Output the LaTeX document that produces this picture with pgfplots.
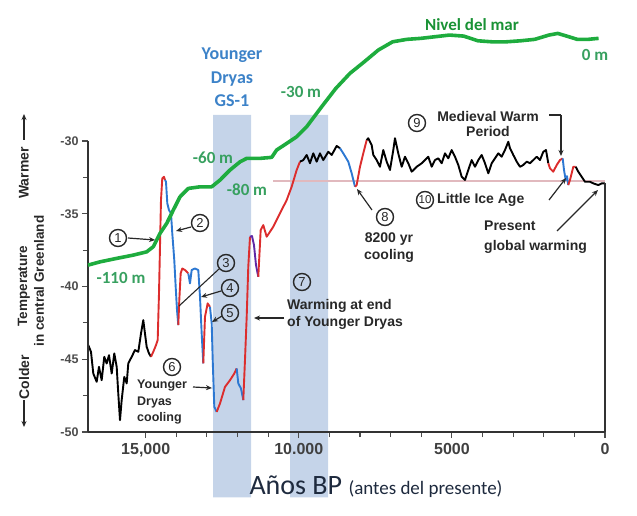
\documentclass[border=0pt]{standalone}
\usepackage{fontspec}
\setmainfont{Liberation Sans}
\newfontfamily\carlito{Carlito}
\usepackage{pgfplots}
\pgfplotsset{compat=1.18}
\usetikzlibrary{arrows.meta}

\definecolor{bandblue}{RGB}{197,212,233}
\definecolor{tred}{RGB}{220,45,45}
\definecolor{tblue}{RGB}{45,120,210}
\definecolor{tpurple}{RGB}{95,40,165}
\definecolor{seagreen}{RGB}{30,172,62}
\definecolor{sealabel}{RGB}{55,160,95}
\definecolor{ydblue}{RGB}{60,130,200}
\definecolor{refline}{RGB}{225,185,190}
\definecolor{txt}{RGB}{40,40,40}
\definecolor{navy}{RGB}{30,42,62}

\tikzset{
  circnum/.style={circle, draw=txt, line width=1.4pt, inner sep=0pt,
    minimum size=17pt, font=\fontsize{13}{13}\selectfont, text=txt},
  ann/.style={font=\bfseries\fontsize{14}{17}\selectfont, text=txt, inner sep=0pt},
  arr/.style={-{Stealth[length=6pt,width=5pt]}, line width=1.2pt, draw=txt},
  sealab/.style={font=\carlito\bfseries\fontsize{17}{17}\selectfont, text=sealabel, inner sep=0pt},
  seg/.style={line width=1.9pt, line join=round, no markers},
}

\begin{document}
\begin{tikzpicture}
\path[use as bounding box] (0,0) rectangle (637pt,515pt);

% temperature axis
\begin{axis}[
  at={(88pt,83pt)}, anchor=south west,
  scale only axis, width=517pt, height=291pt,
  xmin=0, xmax=16885, x dir=reverse,
  ymin=-50, ymax=-30,
  clip=false, axis on top,
  axis x line=bottom, axis y line=left,
  x axis line style={-}, y axis line style={-},
  axis line style={line width=1.3pt, draw=black!80},
  scaled x ticks=false,
  xtick={0,5000,10000,15000},
  xticklabels={0,5000,10.000,{15,000}},
  minor xtick={1000,2000,3000,4000,6000,7000,8000,9000,11000,12000,13000,14000},
  ytick={-50,-45,-40,-35,-30},
  yticklabels={-50,-45,-40,-35,-30},
  minor ytick={-47.5,-42.5,-37.5,-32.5},
  tick align=outside, xtick pos=bottom, ytick pos=left,
  major tick length=6pt, minor tick length=5pt,
  every tick/.style={line width=1.1pt, draw=black!70},
  xticklabel style={font=\bfseries\fontsize{16}{16}\selectfont, text=black!75, yshift=-2pt},
  yticklabel style={font=\bfseries\fontsize{12.5}{12.5}\selectfont, text=black!70},
]
% Younger Dryas and early Holocene bands
\addplot[fill=bandblue, draw=none] coordinates {(12802,-54.5) (11561,-54.5) (11561,-28.2) (12802,-28.2) (12802,-54.5)};
\addplot[fill=bandblue, draw=none] coordinates {(10287,-54.5) (9046,-54.5) (9046,-28.2) (10287,-28.2) (10287,-54.5)};
% present-day reference level
\addplot[refline, line width=1.2pt, no markers] coordinates {(10840,-32.75) (0,-32.75)};

% temperature in central Greenland
\addplot[seg, black] coordinates {(16875,-44.03) (16787,-44.49) (16712,-45.98) (16601,-46.55) (16526,-45.52) (16438,-46.44) (16353,-44.83) (16275,-45.29) (16199,-44.72) (16111,-45.98) (16026,-44.60) (15948,-45.52) (15896,-47.35) (15840,-49.19) (15785,-47.81) (15700,-46.21) (15621,-46.66) (15569,-45.29) (15458,-44.83) (15350,-44.37) (15242,-44.49) (15154,-43.23) (15079,-42.31) (15024,-43.23) (14968,-44.15) (14893,-44.60) (14828,-44.83)};
\addplot[seg, tred] coordinates {(14828,-44.83) (14753,-44.49) (14664,-44.03) (14609,-43.69) (14566,-40.47) (14501,-34.06) (14459,-32.57) (14403,-32.46) (14370,-32.68)};
\addplot[seg, tblue] coordinates {(14370,-32.68) (14338,-32.80) (14295,-34.28) (14240,-34.75) (14174,-34.97) (14132,-36.35) (14067,-38.18) (14021,-40.02) (13978,-41.62) (13936,-42.65)};
\addplot[seg, tred] coordinates {(13936,-42.65) (13903,-40.94) (13858,-39.10) (13805,-38.76) (13717,-38.87) (13609,-39.10)};
\addplot[seg, tblue] coordinates {(13609,-39.10) (13554,-39.79) (13499,-38.87) (13391,-38.76) (13283,-38.87) (13227,-40.71) (13172,-43.23) (13120,-45.29)};
\addplot[seg, tred] coordinates {(13120,-45.29) (13064,-42.08) (12976,-41.16) (12901,-41.40)};
\addplot[seg, tblue] coordinates {(12901,-41.40) (12845,-42.54) (12812,-45.06) (12760,-48.27) (12682,-48.62)};
\addplot[seg, tred] coordinates {(12682,-48.62) (12574,-48.04) (12411,-46.90) (12248,-46.44) (12107,-45.98) (12029,-45.63)};
\addplot[seg, tblue] coordinates {(12029,-45.63) (11976,-46.66) (11888,-47.01) (11813,-47.81)};
\addplot[seg, tred] coordinates {(11813,-47.81) (11758,-45.06) (11702,-42.08) (11650,-38.64) (11594,-36.58)};
\addplot[seg, tpurple] coordinates {(11594,-36.58) (11529,-36.53) (11464,-37.15) (11398,-38.53) (11323,-39.33)};
\addplot[seg, tred] coordinates {(11323,-39.33) (11245,-36.12) (11160,-35.78) (11049,-36.58) (10833,-35.89) (10615,-34.97) (10396,-34.06) (10233,-33.14) (10069,-31.99) (9961,-31.42)};
\addplot[seg, black] coordinates {(9961,-31.42) (9853,-31.31) (9742,-30.96) (9635,-31.53) (9527,-30.85) (9416,-31.42) (9308,-30.85) (9200,-31.31) (9037,-30.74) (8926,-30.96) (8763,-30.34) (8655,-30.50)};
\addplot[seg, tblue] coordinates {(8655,-30.50) (8547,-30.85) (8384,-31.42) (8273,-32.22) (8165,-33.14)};
\addplot[seg, tred] coordinates {(8165,-33.14) (8110,-33.03) (8002,-31.77) (7894,-30.85) (7783,-29.93)};
\addplot[seg, black] coordinates {(7783,-29.93) (7731,-29.81) (7620,-30.28) (7567,-30.96) (7456,-31.31) (7349,-31.77) (7241,-30.62) (7130,-31.42) (7022,-31.99) (6914,-30.62) (6859,-29.81) (6751,-30.85) (6640,-31.77) (6532,-31.08) (6424,-31.53) (6313,-32.11) (6150,-31.77) (5987,-31.53) (5879,-31.31) (5771,-31.08) (5660,-31.77) (5552,-31.31) (5444,-31.19) (5333,-31.53) (5226,-30.85) (5118,-31.19) (5007,-30.62) (4899,-31.08) (4791,-31.65) (4680,-32.46) (4572,-32.68) (4465,-31.99) (4353,-31.31) (4246,-31.77) (4138,-31.31) (4027,-30.96) (3919,-31.53) (3811,-32.22) (3700,-31.53) (3593,-31.19) (3485,-30.85) (3374,-31.08) (3266,-30.62) (3158,-30.05) (3103,-30.50) (2995,-30.96) (2884,-31.42) (2776,-31.77) (2668,-31.65) (2557,-31.42) (2450,-31.53) (2342,-31.31) (2231,-31.08) (2123,-31.31) (2015,-30.74) (1927,-30.62) (1852,-31.53)};
\addplot[seg, tred] coordinates {(1852,-31.53) (1796,-31.88) (1689,-32.11) (1577,-31.65) (1470,-31.31) (1382,-31.19)};
\addplot[seg, tblue] coordinates {(1382,-31.19) (1339,-31.99) (1284,-32.68) (1241,-32.41) (1199,-33.03)};
\addplot[seg, tred] coordinates {(1199,-33.03) (1143,-32.68) (1035,-31.77) (957,-31.77)};
\addplot[seg, black] coordinates {(957,-31.77) (872,-32.11) (761,-32.46) (653,-32.80) (490,-32.80) (382,-32.91) (219,-33.03) (108,-32.91) (0,-32.91)};

% right spine, only below the present value
\draw[line width=1.3pt, draw=black!80] (axis cs:0,-32.9) -- (axis cs:0,-50);
\end{axis}

% sea level (m), same frame, hidden scale
\begin{axis}[
  at={(88pt,83pt)}, anchor=south west,
  scale only axis, width=517pt, height=291pt,
  xmin=0, xmax=16885, x dir=reverse,
  ymin=-192.6, ymax=-50.3,
  hide axis, clip=false,
]
\addplot[seagreen, line width=3.6pt, line join=round, no markers] coordinates {(16885,-111.0) (16494,-109.4) (15948,-107.7) (15406,-106.1) (14968,-104.5) (14753,-102.0) (14534,-95.5) (14315,-90.6) (14099,-84.1) (13881,-77.6) (13610,-73.5) (13227,-72.7) (12845,-72.7) (12574,-69.4) (12248,-64.5) (11921,-60.5) (11702,-58.8) (11268,-58.8) (10886,-58.3) (10723,-54.7) (10396,-51.5) (10069,-48.2) (9742,-43.3) (9416,-36.8) (9256,-33.6) (8792,-24.6) (8328,-17.2) (7865,-11.6) (7401,-5.8) (6937,-1.8) (6473,-0.6) (6009,-0.1) (5546,0.7) (5079,1.5) (4615,1.0) (4151,-1.3) (3687,-1.8) (3224,-1.8) (2760,-1.3) (2296,-0.6) (1832,1.5) (1542,2.3) (1251,1.0) (905,-0.6) (555,-0.6) (209,-0.1)};
\end{axis}

% annotations, in image pixel positions (y downwards)
\begin{scope}[x=1pt, y=-1pt, shift={(0pt,515pt)}]
  % left column labels
  \node[rotate=90, font=\bfseries\fontsize{14}{14}\selectfont, text=txt] at (24,173) {Warmer};
  \draw[arr] (24,140) -- (24,114);
  \node[rotate=90, font=\bfseries\fontsize{13.5}{13.5}\selectfont, text=txt] at (24,286) {Temperature};
  \node[rotate=90, font=\bfseries\fontsize{14}{14}\selectfont, text=txt] at (24,377) {Colder};
  \draw[arr] (24,400) -- (24,427);
  \node[rotate=90, font=\bfseries\fontsize{13.5}{13.5}\selectfont, text=txt] at (39,281) {in central Greenland};

  % x axis title
  \node[anchor=base, text=navy, inner sep=0pt] at (376,494)
    {\carlito\fontsize{28}{30}\selectfont Años BP \fontsize{19}{22}\selectfont(antes del presente)};

  % Younger Dryas title and sea level labels
  \node[anchor=north, align=center, text=ydblue, inner sep=0pt,
        font=\carlito\bfseries\fontsize{18}{23.5}\selectfont] at (232,48) {Younger\\Dryas\\GS-1};
  \node[sealab, text=seagreen!85!black] at (472,25) {Nivel del mar};
  \node[sealab] at (595,55) {0 m};
  \node[sealab] at (301,92) {-30 m};
  \node[sealab] at (213,158) {-60 m};
  \node[sealab] at (247,190) {-80 m};
  \node[sealab] at (121,278) {-110 m};

  % numbered events
  \node[circnum] at (118,238) {1};
  \draw[arr] (128,238) -- (155,240);
  \node[circnum] at (200,223) {2};
  \draw[arr] (191,227) -- (176,231);
  \node[circnum] at (226,263) {3};
  \draw[line width=1.1pt, draw=txt] (219,269) -- (179,306);
  \node[circnum] at (230,288) {4};
  \draw[arr] (221,291) -- (201,297);
  \node[circnum] at (230,313) {5};
  \draw[arr] (222,316) -- (212,322);
  \node[circnum] at (172,367) {6};
  \node[ann, anchor=north west, align=left, font=\bfseries\fontsize{12.5}{16.5}\selectfont] at (137,380) {Younger\\Dryas\\cooling};
  \draw[arr] (193,387) -- (212,388);
  \node[circnum] at (302,282) {7};
  \node[ann, anchor=north west, align=left] at (287,299) {Warming at end\\of Younger Dryas};
  \draw[arr] (284,318) -- (254,318);
  \node[circnum] at (385,217) {8};
  \node[ann, anchor=north, align=center] at (389,233) {8200 yr\\cooling};
  \draw[arr] (372,210) -- (357,189);
  \node[circnum] at (417,123) {9};
  \node[ann, anchor=north, align=center, font=\bfseries\fontsize{14}{15}\selectfont] at (488,111) {Medieval Warm\\Period};
  \draw[line width=1.1pt, draw=txt] (549,115) -- (561,115);
  \draw[arr] (561,115) -- (561,156);
  \node[circnum, font=\fontsize{11.5}{11.5}\selectfont] at (425,200) {10};
  \node[ann, anchor=west] at (437,200) {Little Ice Age};
  \draw[arr] (549,200) -- (566,178);
  \node[ann, anchor=north west, align=left, font=\bfseries\fontsize{14}{20}\selectfont] at (484,221) {Present\\global warming};
  \draw[arr] (557,231) -- (598,190);
\end{scope}
\end{tikzpicture}
\end{document}
